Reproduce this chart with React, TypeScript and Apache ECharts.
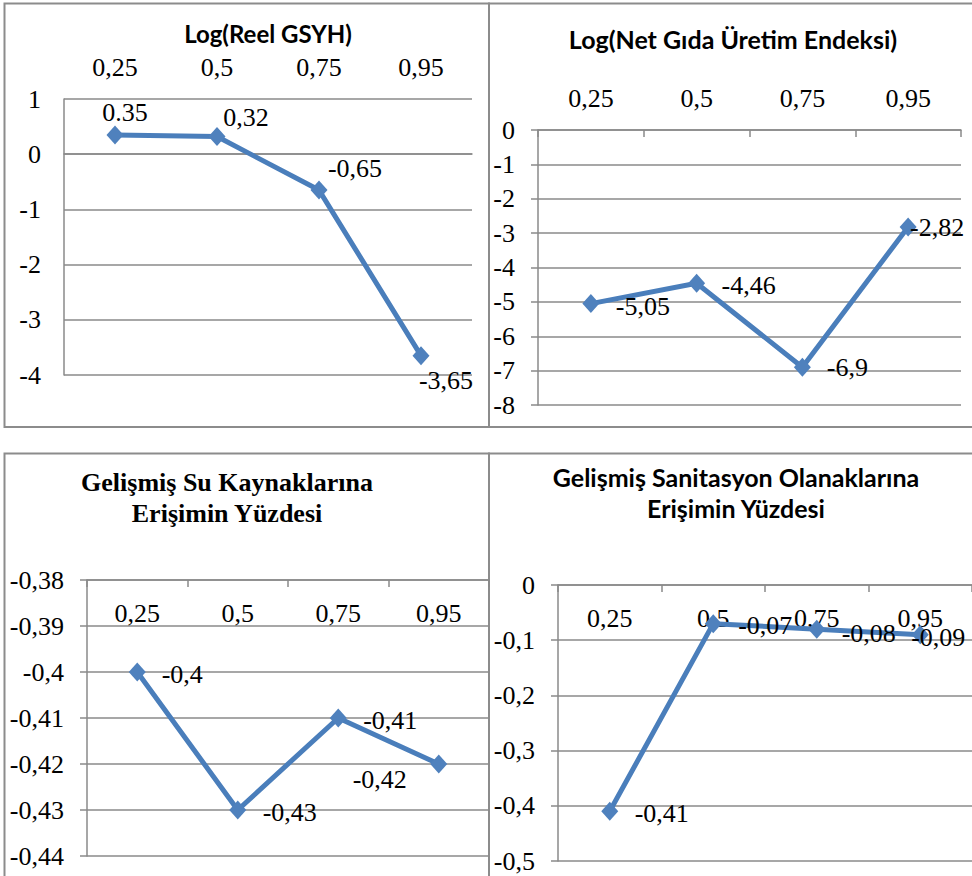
import React, { useEffect, useRef } from "react";
import * as echarts from "echarts";

// ---- data ----
const categories = ["0,25", "0,5", "0,75", "0,95"];

const gsyhValues = [0.35, 0.32, -0.65, -3.65];
const gsyhLabels = ["0.35", "0,32", "-0,65", "-3,65"];

const gidaValues = [-5.05, -4.46, -6.9, -2.82];
const gidaLabels = ["-5,05", "-4,46", "-6,9", "-2,82"];

const suValues = [-0.4, -0.43, -0.41, -0.42];
const suLabels = ["-0,4", "-0,43", "-0,41", "-0,42"];

const sanValues = [-0.41, -0.07, -0.08, -0.09];
const sanLabels = ["-0,41", "-0,07", "-0,08", "-0,09"];

const gsyhTitle = ["Log(Reel GSYH)"];
const gidaTitle = ["Log(Net Gıda Üretim Endeksi)"];
const suTitle = ["Gelişmiş Su Kaynaklarına", "Erişimin Yüzdesi"];
const sanTitle = ["Gelişmiş Sanitasyon Olanaklarına", "Erişimin Yüzdesi"];

const gsyhRange = { min: -4, max: 1, interval: 1 };
const gidaRange = { min: -8, max: 0, interval: 1 };
const suRange = { min: -0.44, max: -0.38, interval: 0.01 };
const sanRange = { min: -0.5, max: 0, interval: 0.1 };

// ---- styles ----
const SERIF = "Liberation Serif";
const SANS = "Lato";
const GRID_COLOR = "#8a8a8a";
const LINE_COLOR = "#4a7ebb";
const MARKER_COLOR = "#4f81bd";
const FONT_SIZE = 26;

const serifText = { fontFamily: SERIF, fontSize: FONT_SIZE, color: "#000" };

const panels = [
  {
    title: gsyhTitle, titleFont: SANS, titleSize: 24, titleX: 268, titleY: 33,
    grid: { left: 64, top: 99, width: 408, height: 276 },
    range: gsyhRange, values: gsyhValues, labels: gsyhLabels,
    offsets: [[10, -22], [29, -19], [36, -22], [25, 25]],
    xTicks: false, yTicks: false, xInside: false,
  },
  {
    title: gidaTitle, titleFont: SANS, titleSize: 25, titleX: 733, titleY: 39,
    grid: { left: 538, top: 130, width: 423, height: 275 },
    range: gidaRange, values: gidaValues, labels: gidaLabels,
    offsets: [[52, 3], [52, 2], [45, 0], [29, 1]],
    xTicks: true, yTicks: true, xInside: false,
  },
  {
    title: suTitle, titleFont: SERIF, titleSize: 26, titleX: 227, titleY: 482,
    grid: { left: 87, top: 580, width: 402, height: 276 },
    range: suRange, values: suValues, labels: suLabels,
    offsets: [[45, 2], [52, 2], [52, 2], [-59, 15]],
    xTicks: true, yTicks: true, xInside: true,
  },
  {
    title: sanTitle, titleFont: SANS, titleSize: 25, titleX: 736, titleY: 477,
    grid: { left: 558, top: 585, width: 414, height: 276 },
    range: sanRange, values: sanValues, labels: sanLabels,
    offsets: [[52, 2], [52, 2], [52, 4], [18, 3]],
    xTicks: true, yTicks: true, xInside: true,
  },
];

const fmt = (v: number) => String(parseFloat(v.toFixed(4))).replace(".", ",");

function buildOption() {
  const grids: any[] = [];
  const xAxes: any[] = [];
  const yAxes: any[] = [];
  const series: any[] = [];
  const graphics: any[] = [];

  // panel borders
  const borders = [
    [4.5, 3.5, 484.5, 423.5],
    [489, 3.5, 490, 423.5],
    [4.5, 453.5, 484.5, 430],
    [489, 453.5, 490, 430],
  ];
  borders.forEach(([x, y, w, h]) => {
    graphics.push({
      type: "rect", silent: true, z: 0,
      shape: { x, y, width: w, height: h },
      style: { fill: "none", stroke: "#8c8c8c", lineWidth: 2 },
    });
  });

  panels.forEach((p, i) => {
    grids.push({ ...p.grid, containLabel: false });
    xAxes.push({
      type: "category", gridIndex: i, data: categories, position: "top",
      boundaryGap: true,
      axisLine: { show: true, lineStyle: { color: GRID_COLOR, width: 1.5 } },
      axisTick: { show: p.xTicks, inside: true, length: 7, lineStyle: { color: GRID_COLOR, width: 1.5 } },
      axisLabel: {
        inside: p.xInside, margin: p.xInside ? 20 : 19,
        ...serifText,
      },
      splitLine: { show: false },
    });
    yAxes.push({
      type: "value", gridIndex: i, ...p.range,
      axisLine: { show: true, lineStyle: { color: GRID_COLOR, width: 1.5 } },
      axisTick: { show: p.yTicks, inside: false, length: 7, lineStyle: { color: GRID_COLOR, width: 1.5 } },
      axisLabel: {
        margin: 23, ...serifText,
        formatter: (v: number) => fmt(v),
      },
      splitLine: { show: true, lineStyle: { color: GRID_COLOR, width: 1.5 } },
    });
    series.push({
      type: "line", xAxisIndex: i, yAxisIndex: i,
      symbol: "diamond", symbolSize: [17, 19],
      lineStyle: { color: LINE_COLOR, width: 5 },
      itemStyle: { color: MARKER_COLOR },
      data: p.values.map((v, k) => ({
        value: v,
        label: { offset: p.offsets[k] },
      })),
      label: {
        show: true, position: "inside", ...serifText,
        formatter: (params: any) => p.labels[params.dataIndex],
      },
      z: 3,
    });
    p.title.forEach((t, k) => {
      graphics.push({
        type: "text", silent: true,
        x: p.titleX, y: p.titleY + k * 31,
        style: {
          text: t, fill: "#000",
          fontFamily: p.titleFont, fontSize: p.titleSize, fontWeight: "bold",
          textAlign: "center", textVerticalAlign: "middle",
        },
      });
    });
  });

  return {
    animation: false,
    backgroundColor: "#fff",
    textStyle: { fontFamily: SERIF },
    grid: grids,
    xAxis: xAxes,
    yAxis: yAxes,
    series,
    graphic: graphics,
  };
}

export default function App() {
  const ref = useRef<HTMLDivElement>(null);
  useEffect(() => {
    if (!ref.current) return;
    const chart = echarts.init(ref.current, undefined, { renderer: "svg" });
    chart.setOption(buildOption());
    return () => chart.dispose();
  }, []);
  return (
    <div
      ref={ref}
      style={{ position: "absolute", left: 0, top: 0, width: 972, height: 876 }}
    />
  );
}
